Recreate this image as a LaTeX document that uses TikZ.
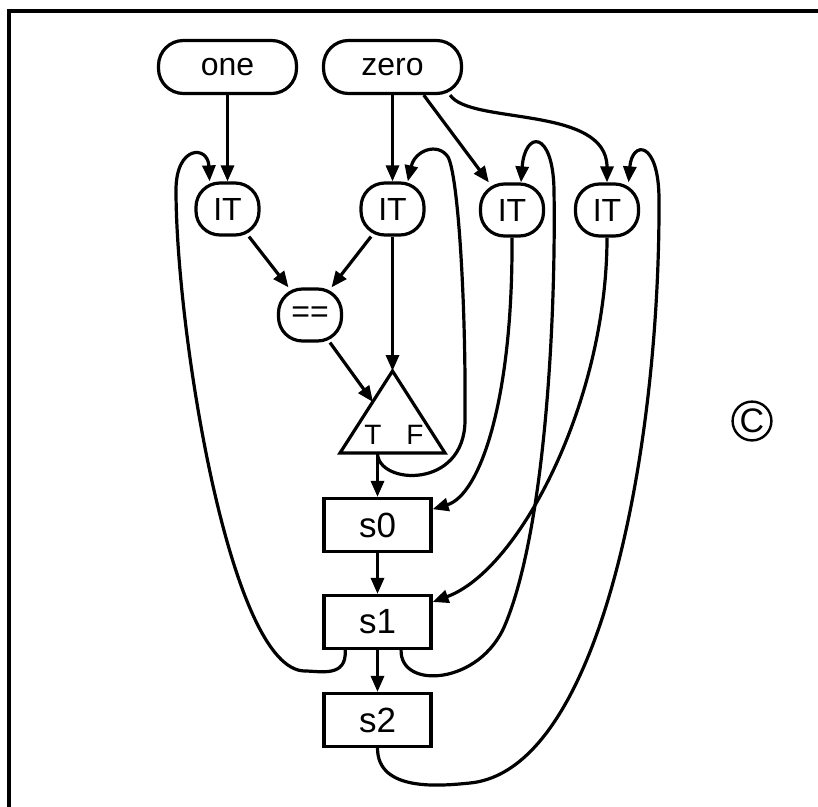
\documentclass[tikz,border=0pt]{standalone}
\usepackage{fontspec}
\setmainfont{Liberation Sans}
\usetikzlibrary{arrows.meta}

\begin{document}
\begin{tikzpicture}[
    x=0.5pt, y=-0.5pt,
    line width=1.6pt,
    source/.style={
        rectangle,
        rounded corners=12.5pt,
        draw,
        inner sep=0pt,
        minimum width=69pt,
        minimum height=26.5pt,
        font=\fontsize{16}{19}\selectfont
    },
    iter/.style={
        rectangle,
        rounded corners=12pt,
        draw,
        inner sep=0pt,
        minimum width=31.5pt,
        minimum height=26pt,
        font=\fontsize{16}{19}\selectfont
    },
    state/.style={
        rectangle,
        draw,
        inner sep=0pt,
        minimum width=53.5pt,
        minimum height=26.5pt,
        font=\fontsize{17.5}{20}\selectfont
    },
    flow/.style={
        -{Triangle[length=8pt,width=6.5pt]}
    }
]
\useasboundingbox (0,0) rectangle (818,807);

% FRAME
\draw[line width=1.6pt] (9,807) -- (9,11) -- (818,11);

% SOURCES
\node[source] (one) at (227.5,67) {one};
\node[source] (zero) at (392.5,67) {zero};

% ITERATORS
\node[iter] (it1) at (227.5,209) {IT};
\node[iter] (it2) at (392.5,209) {IT};
\node[iter] (it3) at (512,210) {IT};
\node[iter] (it4) at (607,210) {IT};

% COMPARISON AND MUX
\node[iter] (eq) at (310,315) {==};

\coordinate (muxtop) at (392.5,371);
\coordinate (muxright) at (445,453);
\coordinate (muxleft) at (340,453);
\coordinate (muxin) at (373,402);
\coordinate (muxout) at (377.5,453);
\draw (muxtop) -- (muxright) -- (muxleft) -- cycle;
\node[font=\fontsize{14}{16}\selectfont] (tlabel) at (373,435) {T};
\node[font=\fontsize{14}{16}\selectfont] (flabel) at (415,435) {F};

% STATES
\node[state] (s0) at (377.5,525) {s0};
\node[state] (s1) at (377.5,622) {s1};
\node[state] (s2) at (377.5,720) {s2};

\node[circle, draw, line width=1.2pt, inner sep=0.8pt,
      font=\fontsize{17}{19}\selectfont] (copy) at (752,421) {C};

% ARROWS
\draw[flow] (one) -- (it1);
\draw[flow] (zero) -- (it2);
\draw[flow] (zero.-42) -- (it3.130);
\draw[flow] (zero.-26) .. controls (470,125) and (607,105) .. (it4.north);

\draw[flow] (it1) -- (eq);
\draw[flow] (it2) -- (eq);
\draw[flow] (it2) -- (muxtop);
\draw[flow] (eq) -- (muxin);

\draw[flow] (muxout) -- (s0);
\draw[flow] (s0) -- (s1);
\draw[flow] (s1) -- (s2);

\draw[flow] (it3.south) .. controls (513,400) and (480,495) .. (s0.16);
\draw[flow] (it4.south) .. controls (607,400) and (520,570) .. (s1.20);

% FEEDBACK
\draw[flow] (muxout) .. controls (377.5,485) and (465,490) .. (465,420)
    .. controls (466,300) and (458,175) .. (448,157)
    .. controls (438,142) and (415,150) .. (it2.61);
\draw[flow] (s1.-139) .. controls (347,678) and (320,671) .. (305,671)
    .. controls (230,671) and (176,330) .. (176,190)
    .. controls (176,145) and (208,145) .. (it1.123);
\draw[flow] (s1.-50) .. controls (400,690) and (480,685) .. (505,625)
    .. controls (545,530) and (556,320) .. (554,190)
    .. controls (553,130) and (525,130) .. (it3.72);
\draw[flow] (s2.south) .. controls (377.5,792) and (440,786) .. (470,783)
    .. controls (600,770) and (660,450) .. (659,200)
    .. controls (659,140) and (632,140) .. (it4.52);

\end{tikzpicture}
\end{document}
